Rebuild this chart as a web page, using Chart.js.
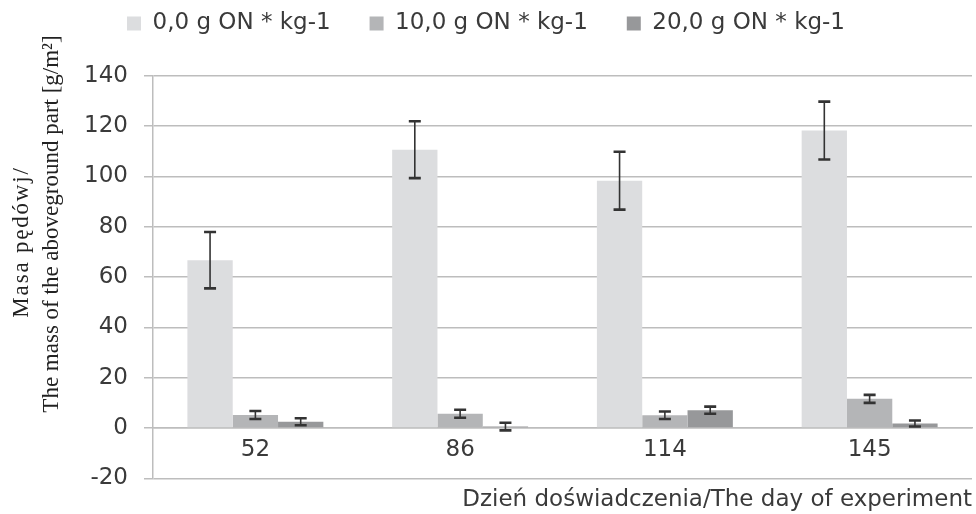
<!DOCTYPE html>
<html>
<head>
<meta charset="utf-8">
<script src="https://cdn.jsdelivr.net/npm/chart.js@4/dist/chart.umd.min.js"></script>
<style>
  body { margin: 0; background: #fff; }
</style>
</head>
<body>
<canvas id="chart" width="976" height="514"></canvas>
<script>
// data
const days = ['52', '86', '114', '145'];
const seriesNames = ['0,0 g ON * kg-1', '10,0 g ON * kg-1', '20,0 g ON * kg-1'];
const dose0 = [66.7, 110.6, 98.3, 118.2];
const dose10 = [5.2, 5.7, 5.1, 11.6];
const dose20 = [2.5, 0.6, 7.1, 1.8];
const err0 = [11.2, 11.3, 11.5, 11.5];
const err10 = [1.6, 1.6, 1.5, 1.6];
const err20 = [1.4, 1.5, 1.4, 1.2];
const yTickValues = [-20, 0, 20, 40, 60, 80, 100, 120, 140];
const yTitleLines = ['Masa pędówj/', 'The mass of the aboveground part [g/m²]'];
const xTitle = 'Dzień doświadczenia/The day of experiment';

const textColor = '#3a3a3a';
const gridColor = '#bdbdbd';

Chart.defaults.font.family = "'DejaVu Sans', sans-serif";
Chart.defaults.font.size = 23;
Chart.defaults.color = textColor;

// whiskers drawn on top of the bars
const errorBars = {
    id: 'errorBars',
    afterDatasetsDraw(chart) {
        const ctx = chart.ctx;
        const y = chart.scales.y;
        ctx.save();
        ctx.strokeStyle = '#333';
        chart.data.datasets.forEach((ds, i) => {
            chart.getDatasetMeta(i).data.forEach((bar, j) => {
                const top = y.getPixelForValue(ds.data[j] + ds.errors[j]);
                const bottom = y.getPixelForValue(ds.data[j] - ds.errors[j]);
                ctx.lineWidth = 1.6;
                ctx.beginPath();
                ctx.moveTo(bar.x, top);
                ctx.lineTo(bar.x, bottom);
                ctx.stroke();
                ctx.lineWidth = 2.6;
                ctx.beginPath();
                ctx.moveTo(bar.x - 6, top);
                ctx.lineTo(bar.x + 6, top);
                ctx.moveTo(bar.x - 6, bottom);
                ctx.lineTo(bar.x + 6, bottom);
                ctx.stroke();
            });
        });
        ctx.restore();
    }
};

// two-line serif title on the left
const yTitle = {
    id: 'yTitle',
    afterDraw(chart) {
        const ctx = chart.ctx;
        const spots = [[22, 242], [52, 224]];
        const spacing = ['1.8px', '0px'];
        ctx.save();
        ctx.font = '23px "Liberation Serif", serif';
        ctx.fillStyle = '#222';
        ctx.textAlign = 'center';
        ctx.textBaseline = 'middle';
        yTitleLines.forEach((line, i) => {
            ctx.save();
            ctx.letterSpacing = spacing[i];
            ctx.translate(spots[i][0], spots[i][1]);
            ctx.rotate(-Math.PI / 2);
            ctx.fillText(line, 0, 0);
            ctx.restore();
        });
        ctx.restore();
    }
};

// wide gaps between legend items but keep it near the top
const legendSpace = {
    id: 'legendSpace',
    beforeInit(chart) {
        const origFit = chart.legend.fit;
        chart.legend.fit = function () {
            origFit.bind(chart.legend)();
            this.height = 102.7;
        };
    }
};

const ctx = document.getElementById('chart').getContext('2d');

new Chart(ctx, {
    type: 'bar',
    data: {
        labels: days,
        datasets: [
            { label: seriesNames[0], data: dose0, errors: err0, backgroundColor: '#dcdddf' },
            { label: seriesNames[1], data: dose10, errors: err10, backgroundColor: '#b4b5b7' },
            { label: seriesNames[2], data: dose20, errors: err20, backgroundColor: '#97989a' }
        ]
    },
    options: {
        responsive: false,
        animation: false,
        categoryPercentage: 0.664,
        barPercentage: 1,
        layout: { padding: { top: -27, right: 4, left: 0, bottom: 0 } },
        scales: {
            x: {
                position: { y: 0 },
                grid: { display: false, drawTicks: false },
                border: { color: gridColor, width: 1.5 },
                ticks: { padding: 8, color: textColor }
            },
            xTitle: {
                type: 'category',
                position: 'bottom',
                grid: { display: false },
                border: { display: false },
                ticks: { display: false },
                title: {
                    display: true,
                    text: xTitle,
                    align: 'end',
                    color: textColor,
                    padding: { top: 0, bottom: 0 }
                }
            },
            y: {
                min: -20,
                max: 140,
                afterBuildTicks: s => { s.ticks = yTickValues.map(v => ({ value: v })); },
                afterFit: s => { s.width = 153; },
                grid: { color: gridColor, lineWidth: 1.5, tickLength: 9 },
                border: { color: gridColor, width: 1.5 },
                ticks: { padding: 16, color: textColor }
            }
        },
        plugins: {
            legend: {
                position: 'top',
                labels: {
                    boxWidth: 14,
                    boxHeight: 14,
                    padding: 39,
                    color: textColor
                }
            },
            tooltip: { enabled: false }
        }
    },
    plugins: [errorBars, yTitle, legendSpace]
});
</script>
</body>
</html>
